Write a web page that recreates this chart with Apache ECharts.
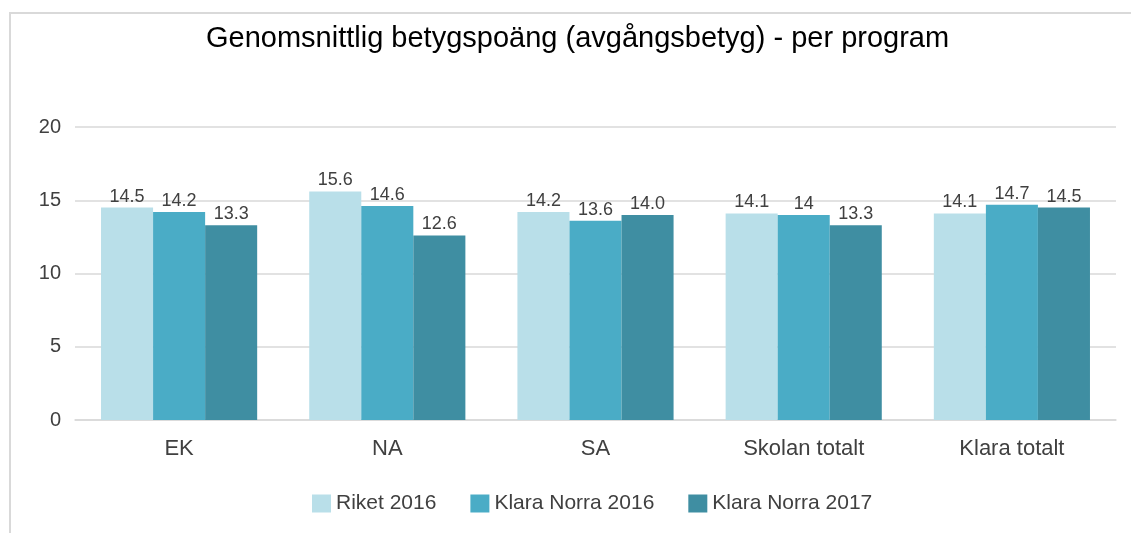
<!DOCTYPE html>
<html>
<head>
<meta charset="utf-8">
<title>Genomsnittlig betygspoäng</title>
<script src="https://cdn.jsdelivr.net/npm/echarts@6/dist/echarts.min.js"></script>
<style>
  html, body { margin: 0; padding: 0; background: #fff; }
  #chart { width: 1131px; height: 533px; }
</style>
</head>
<body>
<div id="chart"></div>
<script>
// Data
const categories = ['EK', 'NA', 'SA', 'Skolan totalt', 'Klara totalt'];
const seriesNames = ['Riket 2016', 'Klara Norra 2016', 'Klara Norra 2017'];
const riket2016 = [14.5, 15.6, 14.2, 14.1, 14.1];
const klara2016 = [14.2, 14.6, 13.6, 14.0, 14.7];
const klara2017 = [13.3, 12.6, 14.0, 13.3, 14.5];
// labels as printed in the original (one shows "14" without decimal)
const riket2016Labels = ['14.5', '15.6', '14.2', '14.1', '14.1'];
const klara2016Labels = ['14.2', '14.6', '13.6', '14', '14.7'];
const klara2017Labels = ['13.3', '12.6', '14.0', '13.3', '14.5'];
const yTicks = [0, 5, 10, 15, 20];

const colors = ['#b9dfe9', '#4aacc6', '#3f8ea2'];
const font = 'Liberation Sans, Arial, sans-serif';

(function () {
    const chart = echarts.init(document.getElementById('chart'));

    const makeSeries = (name, values, labels, color) => ({
        name: name,
        type: 'bar',
        data: values,
        barGap: '0%',
        barCategoryGap: '25%',
        itemStyle: { color: color },
        label: {
            show: true,
            position: 'top',
            distance: 2,
            color: '#404040',
            fontFamily: font,
            fontSize: 18,
            formatter: ({ dataIndex }) => labels[dataIndex]
        }
    });

    chart.setOption({
        animation: false,
        textStyle: { fontFamily: font },
        title: {
            text: 'Genomsnittlig betygspoäng (avgångsbetyg) - per program',
            left: 201,
            top: 19,
            textStyle: { color: '#000', fontSize: 29, fontWeight: 'normal', fontFamily: font }
        },
        // light frame as in the source image
        graphic: [{
            type: 'polyline',
            shape: { points: [[10, 533], [10, 13], [1131, 13]] },
            style: { stroke: '#d9d9d9', lineWidth: 2, fill: null }
        }],
        legend: {
            top: 488,
            left: 307,
            itemWidth: 19,
            itemHeight: 18,
            itemGap: 34,
            icon: 'rect',
            data: seriesNames,
            textStyle: { color: '#404040', fontSize: 21, fontFamily: font }
        },
        grid: { left: 75, right: 15, top: 127, bottom: 113 },
        xAxis: {
            type: 'category',
            data: categories,
            axisLine: { lineStyle: { color: '#d9d9d9', width: 1.5 } },
            axisTick: { show: false },
            axisLabel: { color: '#404040', fontSize: 22, margin: 18, fontFamily: font }
        },
        yAxis: {
            type: 'value',
            min: yTicks[0],
            max: yTicks[yTicks.length - 1],
            interval: 5,
            axisLine: { show: false },
            axisTick: { show: false },
            splitLine: { lineStyle: { color: '#d9d9d9', width: 1.5 } },
            axisLabel: { color: '#404040', fontSize: 20, margin: 14, fontFamily: font }
        },
        series: [
            makeSeries(seriesNames[0], riket2016, riket2016Labels, colors[0]),
            makeSeries(seriesNames[1], klara2016, klara2016Labels, colors[1]),
            makeSeries(seriesNames[2], klara2017, klara2017Labels, colors[2])
        ]
    });

    window.addEventListener('resize', () => chart.resize());
})();
</script>
</body>
</html>
